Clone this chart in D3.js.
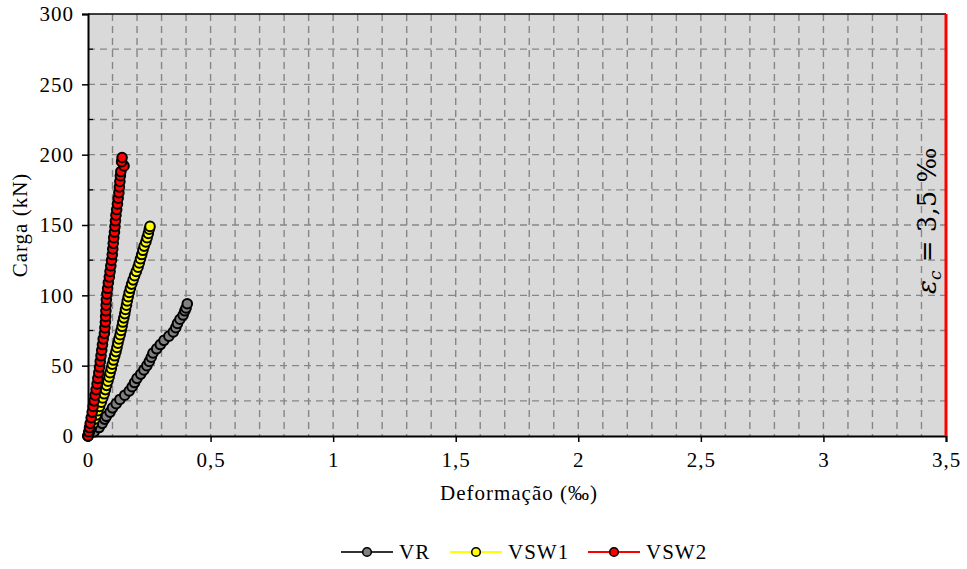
<!DOCTYPE html>
<html><head><meta charset="utf-8">
<script src="https://cdn.jsdelivr.net/npm/d3@7"></script>
<style>
body{margin:0;background:#fff;}
svg{display:block;}
svg text{font-family:"Liberation Serif","Times New Roman",Times,serif;letter-spacing:1px;}
svg text.math{font-family:"DejaVu Serif",serif;letter-spacing:0;}
</style></head>
<body><svg id="chart" width="967" height="569"></svg>
<script>
// ---- data ----
const seriesNames = ["VR", "VSW1", "VSW2"];
const vrLoad = [0,3,6,9,12,14,17,20,23,26,29,32,35,38,41,44,47,50,53,56,59,62,65,68,71,74,77,80,83,86,89,91,94];
const vrDef  = [0,0.025,0.045,0.058,0.068,0.075,0.09,0.1,0.115,0.13,0.15,0.168,0.18,0.19,0.2,0.215,0.228,0.24,0.25,0.258,0.265,0.28,0.295,0.31,0.33,0.348,0.358,0.365,0.375,0.388,0.395,0.40,0.405];
const vsw1Load = [0,3,6,9,12,15,18,21,24,27,30,33,36,39,42,45,48,51,54,57,60,63,66,69,72,75,78,81,84,87,90,93,96,99,102,105,108,111,114,117,120,123,126,129,132,135,138,141,144,147,149];
const vsw1Def  = [0,0.006,0.014,0.022,0.028,0.034,0.04,0.047,0.054,0.06,0.066,0.071,0.076,0.081,0.086,0.09,0.095,0.099,0.104,0.109,0.114,0.118,0.122,0.126,0.131,0.135,0.139,0.142,0.146,0.15,0.153,0.157,0.16,0.164,0.168,0.173,0.178,0.184,0.19,0.197,0.204,0.209,0.214,0.219,0.224,0.229,0.236,0.241,0.246,0.25,0.253];
const vsw2Load = [0,3,6,9,13,17,21,25,29,33,37,41,45,49,53,57,61,65,69,73,77,81,85,89,93,97,101,105,109,113,117,121,125,129,133,137,141,145,149,153,157,161,165,169,173,177,181,185,188,192,195,198];
const vsw2Def  = [0,0.003,0.006,0.009,0.013,0.017,0.021,0.025,0.029,0.033,0.037,0.04,0.044,0.047,0.05,0.053,0.056,0.059,0.062,0.067,0.069,0.071,0.072,0.073,0.074,0.075,0.077,0.08,0.083,0.087,0.09,0.093,0.096,0.099,0.101,0.103,0.105,0.108,0.11,0.112,0.114,0.117,0.12,0.123,0.126,0.128,0.13,0.132,0.134,0.147,0.137,0.139];
const xTicks = [0,0.5,1,1.5,2,2.5,3,3.5];
const yTicks = [0,50,100,150,200,250,300];
const limitStrain = 3.5;

const lineColors = ["#000000", "#ffff00", "#ff0000"];
const fillColors = ["#808080", "#ffff00", "#ff0000"];

// ---- layout ----
const svg = d3.select("#chart");
const L = 88, R = 946, T = 14, B = 436;
const x = d3.scaleLinear().domain([0, 3.5]).range([L, R]);
const y = d3.scaleLinear().domain([0, 300]).range([B, T]);

svg.append("rect").attr("x", L).attr("y", T).attr("width", R - L).attr("height", B - T).attr("fill", "#d9d9d9");

// grid
const g = svg.append("g");
const vGrid = d3.range(1, 35).map(i => i / 10);
g.selectAll(".vg").data(vGrid).join("line")
  .attr("x1", d => x(d)).attr("x2", d => x(d)).attr("y1", T).attr("y2", B)
  .attr("stroke", "#868686").attr("stroke-width", 1.4).attr("stroke-dasharray", "7,5");
const hGrid = d3.range(25, 300, 25);
g.selectAll(".hg").data(hGrid).join("line")
  .attr("x1", L).attr("x2", R).attr("y1", d => y(d)).attr("y2", d => y(d))
  .attr("stroke", "#868686").attr("stroke-width", 1.4).attr("stroke-dasharray", "7,5");

// axes
const fs = "21px";
const xAxis = svg.append("g").attr("transform", `translate(0,${B})`)
  .call(d3.axisBottom(x).tickValues(xTicks).tickSize(6).tickPadding(10)
    .tickFormat(d => String(d).replace(".", ",")));
xAxis.attr("font-family", null);
xAxis.select(".domain").attr("stroke", "#000").attr("stroke-width", 2);
xAxis.selectAll(".tick line").attr("stroke", "#000").attr("stroke-width", 1.5);
xAxis.selectAll("text").attr("font-size", fs).attr("fill", "#000");

const yAxis = svg.append("g").attr("transform", `translate(${L},0)`)
  .call(d3.axisLeft(y).tickValues(yTicks).tickSize(6).tickPadding(8));
yAxis.attr("font-family", null);
yAxis.select(".domain").attr("stroke", "#000").attr("stroke-width", 2);
yAxis.selectAll(".tick line").attr("stroke", "#000").attr("stroke-width", 1.5);
yAxis.selectAll("text").attr("font-size", fs).attr("fill", "#000");

// minor y ticks inside
svg.selectAll(".ymin").data(d3.range(25, 300, 50)).join("line")
  .attr("x1", L).attr("x2", L + 5).attr("y1", d => y(d)).attr("y2", d => y(d))
  .attr("stroke", "#000").attr("stroke-width", 1.2);

// top border
svg.append("line").attr("x1", L).attr("x2", R).attr("y1", T).attr("y2", T).attr("stroke", "#000").attr("stroke-width", 1.5);

// limit line
svg.append("line").attr("x1", x(limitStrain)).attr("x2", x(limitStrain)).attr("y1", T).attr("y2", B)
  .attr("stroke", "#ff0000").attr("stroke-width", 3);

// annotation
const ann = svg.append("text").attr("class", "math")
  .attr("transform", `translate(936,${y(153)}) rotate(-90)`)
  .attr("text-anchor", "middle").attr("font-size", "26px").attr("fill", "#000");
ann.append("tspan").attr("font-style", "italic").text("ε");
ann.append("tspan").attr("font-style", "italic").attr("font-size", "17px").attr("dy", 5).text("c");
ann.append("tspan").attr("dy", -5).text(" = 3,5 ‰");

// series
const series = [
  vrLoad.map((p, i) => ({ x: vrDef[i], y: p })),
  vsw1Load.map((p, i) => ({ x: vsw1Def[i], y: p })),
  vsw2Load.map((p, i) => ({ x: vsw2Def[i], y: p }))
];
const line = d3.line().x(d => x(d.x)).y(d => y(d.y));
series.forEach((s, k) => {
  svg.append("path").datum(s).attr("d", line).attr("fill", "none")
    .attr("stroke", lineColors[k]).attr("stroke-width", 2);
  svg.append("g").selectAll("circle").data(s).join("circle")
    .attr("cx", d => x(d.x)).attr("cy", d => y(d.y)).attr("r", 4.8)
    .attr("fill", fillColors[k]).attr("stroke", "#000").attr("stroke-width", 2);
});

// axis titles
svg.append("text").attr("x", 519).attr("y", 500).attr("text-anchor", "middle")
  .attr("font-size", fs).attr("fill", "#000").text("Deformação (‰)");
svg.append("text").attr("transform", `translate(27,${(T + B) / 2}) rotate(-90)`).attr("text-anchor", "middle")
  .attr("font-size", fs).attr("fill", "#000").text("Carga (kN)");

// legend
const legX = [341, 450, 588];
const lg = svg.append("g");
seriesNames.forEach((n, k) => {
  const x0 = legX[k], yy = 552;
  lg.append("line").attr("x1", x0).attr("x2", x0 + 52).attr("y1", yy).attr("y2", yy)
    .attr("stroke", k === 0 ? "#333" : lineColors[k]).attr("stroke-width", 2);
  lg.append("circle").attr("cx", x0 + 26).attr("cy", yy).attr("r", 4.3)
    .attr("fill", fillColors[k]).attr("stroke", "#000").attr("stroke-width", 1.6);
  lg.append("text").attr("x", x0 + 58).attr("y", yy + 7).attr("font-size", fs).attr("fill", "#000").text(n);
});
</script></body></html>
